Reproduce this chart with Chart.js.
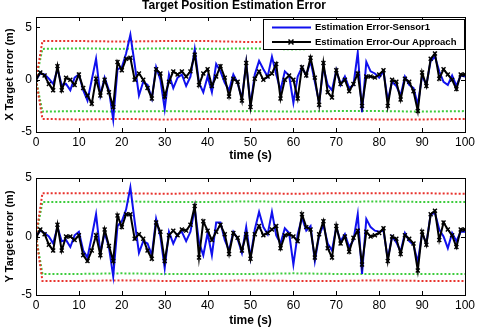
<!DOCTYPE html>
<html>
<head>
<meta charset="utf-8">
<title>Target Position Estimation Error</title>
<script src="https://cdn.jsdelivr.net/npm/chart.js@4.4.1/dist/chart.umd.min.js"></script>
<style>
  body { margin: 0; background: #fff; }
  canvas { display: block; }
</style>
</head>
<body>
<canvas id="xChart" width="478" height="164"></canvas>
<canvas id="yChart" width="478" height="164"></canvas>
<script>
// sample times (s), one estimate per second
const timeS = Array.from({ length: 101 }, (_, i) => i);
const yTicks = [-5, 0, 5];

const xErrSensor1 = [
  0, 0.6, 0.5, 0.1, -0.4, 1.0, -0.5, -0.4, -1.0, 0.2,
  0.5, -1.0, -2.0, 0.0, 2.0, -1.5, 0.2, -1.0, -3.8, 1.0,
  1.2, 2.5, 4.3, 1.5, -1.5, -0.2, -0.5, -1.8, 1.2, 0.0,
  -2.8, 0.5, -0.8, 0.2, 0.5, -0.6, 0.3, 2.9, -0.3, -1.2,
  0.3, -1.2, 1.5, 0.8, -0.3, -1.0, 0.5, -0.3, -1.8, 1.6,
  -2.4, 0.5, 1.8, 1.0, 0.3, 2.2, 0.5, -1.0, 0.8, 0.4,
  -2.2, 0.3, 1.2, 0.4, 1.8, -0.2, -2.2, 1.2, -0.5, -1.0,
  0.9, -0.5, 0.3, -0.8, -0.5, 2.6, -3.1, 1.7, 0.8, 0.6,
  0.2, 0.8, -2.0, -0.2, -0.6, -1.5, 0.3, -0.5, -0.8, -2.4,
  0.4, -0.5, 1.8, 2.2, 0.8, -0.2, -0.5, 0.4, -0.6, 0.4,
  0.3
];
const xErrOurs = [
  0, 0.7, 0.4, -0.4, -1.0, 1.3, -1.0, 0.2, 0.0, -0.5,
  0.5, -0.8, -1.5, -2.3, 0.1, -1.5, 0.0, -1.2, -2.6, 1.7,
  0.9, 2.0, 2.1, 0.0, 0.6, 0.0, -0.8, -1.8, 1.0, 0.6,
  -1.6, -0.2, 0.8, 0.5, 0.8, 0.3, 0.8, 2.4, -0.5, 0.6,
  1.0, -0.6, 0.3, 1.3, 0.2, -1.6, 0.1, -0.2, -2.0, 1.6,
  -2.6, 0.1, 0.8, 0.0, 0.3, 0.6, 1.5, -1.8, 0.0, 0.4,
  0.0, -1.8, 1.2, 0.4, 2.1, 0.2, -2.4, 1.6, -1.2, -1.7,
  0.9, -0.4, 0.0, -1.1, -0.4, 0.6, -2.5, 0.3, 0.3, 0.2,
  0.5, 0.9, -2.5, 0.0, -0.2, -1.9, 0.1, -0.2, -1.1, -3.0,
  0.7, -0.6, 2.0, 2.5, 0.1, 1.0, 0.5, 0.0, -0.9, 0.5,
  0.5
];
const yErrSensor1 = [
  0, 0.5, 0.3, 0.0, -0.6, 0.8, -0.4, -0.3, -0.9, 0.1,
  0.4, -1.2, -1.8, 0.0, 1.9, -1.4, 0.3, -0.9, -3.4, 0.9,
  1.3, 2.3, 4.2, 1.3, -1.4, -0.4, -0.6, -1.6, 1.5, 0.0,
  -2.7, 0.4, -0.6, 0.2, 0.4, -0.4, 0.4, 2.4, -0.5, -1.6,
  0.3, -1.6, 1.2, 1.2, -0.3, -1.2, 0.4, -0.2, -1.4, 0.8,
  -1.8, 0.6, 2.1, 0.8, 0.2, 2.1, 0.1, -0.6, 0.7, 0.3,
  -2.4, 0.2, 1.6, 0.5, 0.9, -2.1, 0.1, 1.0, -0.6, -1.2,
  0.8, -0.4, 0.2, -0.9, -0.3, 1.9, -3.2, 1.5, 0.8, 0.5,
  0.4, 0.5, -1.9, 0.0, -0.5, -1.3, 0.3, -0.4, -0.7, -2.2,
  0.3, -0.6, 1.9, 2.0, 0.6, 0.0, -1.0, 0.3, -0.4, 0.4,
  0.4
];
const yErrOurs = [
  -0.1, 0.6, 0.2, -0.7, -1.2, 1.0, -1.2, 0.0, 0.0, -0.3,
  0.1, -1.6, -2.1, -1.2, 0.1, -1.6, 0.6, -0.8, -2.1, 1.8,
  0.8, 1.9, 1.9, -0.2, 0.2, -0.2, -1.2, -1.9, 1.2, 0.4,
  -2.1, 0.1, 0.5, 0.1, 0.6, 0.5, 1.0, 2.6, -1.8, 1.3,
  0.5, -0.3, 0.4, 1.0, 0.2, -1.5, 0.3, -0.1, -1.2, 0.2,
  -1.9, 0.2, 0.9, 0.1, 0.3, 0.6, 0.9, -1.0, 0.1, 0.2,
  0.0, -0.4, 1.9, 0.8, 0.6, -1.8, 0.2, 1.3, -1.0, -1.8,
  0.9, -0.6, 0.0, -1.3, -0.1, 0.5, -2.4, 0.4, 0.0, 0.1,
  0.3, 0.7, -2.1, 0.0, -0.2, -1.5, 0.1, -0.2, -0.6, -2.9,
  0.4, -0.7, 1.9, 2.2, -0.3, 1.2, 0.6, 0.1, -0.9, 0.6,
  0.6
];

// error bounds (dotted)
const boundT = [0, 1.5, 10, 20, 30, 40, 50, 60, 70, 80, 90, 100];
const xRedHi = [0, 3.7, 3.7, 3.65, 3.7, 3.7, 3.6, 3.7, 3.7, 3.7, 3.65, 3.7];
const xRedLo = [0, -3.75, -3.8, -3.75, -3.8, -3.75, -3.8, -3.75, -3.75, -3.8, -3.8, -3.75];
const xGreenHi = [0, 2.95, 3.0, 2.95, 3.0, 2.95, 3.0, 2.9, 3.0, 2.95, 3.0, 3.0];
const xGreenLo = [0, -3.05, -3.0, -3.05, -3.0, -3.05, -3.0, -3.05, -3.0, -3.0, -3.05, -3.0];
const yRedHi = [0, 3.7, 3.7, 3.7, 3.65, 3.7, 3.7, 3.65, 3.7, 3.7, 3.7, 3.65];
const yRedLo = [0, -3.8, -3.8, -3.75, -3.8, -3.8, -3.75, -3.8, -3.8, -3.75, -3.8, -3.8];
const yGreenHi = [0, 2.95, 2.95, 3.0, 2.95, 2.95, 3.0, 2.95, 2.95, 3.0, 2.95, 2.95];
const yGreenLo = [0, -3.2, -3.2, -3.15, -3.2, -3.2, -3.2, -3.15, -3.2, -3.2, -3.2, -3.2];

const FONT = '"Liberation Sans", Arial, sans-serif';
const RED = '#e8322c';
const GREEN = '#3ccc3c';

const pts = (xs, ys) => xs.map((x, i) => ({ x, y: ys[i] }));

const boundSet = (ts, vals, color) => ({
  data: pts(ts, vals),
  borderColor: color,
  borderWidth: 2,
  borderDash: [2, 2],
  pointRadius: 0,
  order: 3
});

// MATLAB-like box with inward ticks
const matlabFrame = {
  id: 'matlabFrame',
  afterDraw(chart) {
    const { ctx, chartArea: a, scales } = chart;
    ctx.save();
    ctx.strokeStyle = '#000';
    ctx.lineWidth = 1;
    ctx.strokeRect(a.left + 0.5, a.top + 0.5, a.right - a.left, a.bottom - a.top);
    ctx.beginPath();
    scales.x.ticks.forEach(t => {
      const px = Math.round(scales.x.getPixelForValue(t.value)) + 0.5;
      ctx.moveTo(px, a.bottom); ctx.lineTo(px, a.bottom - 4);
      ctx.moveTo(px, a.top); ctx.lineTo(px, a.top + 4);
    });
    scales.y.ticks.forEach(t => {
      const py = Math.round(scales.y.getPixelForValue(t.value)) + 0.5;
      ctx.moveTo(a.left, py); ctx.lineTo(a.left + 4, py);
      ctx.moveTo(a.right, py); ctx.lineTo(a.right - 4, py);
    });
    ctx.stroke();
    ctx.restore();
  }
};

// legend box inside the plot, upper right
const boxLegend = {
  id: 'boxLegend',
  afterDraw(chart, args, opts) {
    if (!opts.show) return;
    const { ctx, chartArea: a } = chart;
    const items = chart.data.datasets.filter(d => d.label);
    const w = 201, h = 30;
    const x0 = a.right - w - 1, y0 = a.top + 2;
    ctx.save();
    ctx.fillStyle = '#fff';
    ctx.fillRect(x0, y0, w, h);
    ctx.strokeStyle = '#000';
    ctx.lineWidth = 1;
    ctx.strokeRect(x0 + 0.5, y0 + 0.5, w, h);
    ctx.font = 'bold 9.5px ' + FONT;
    ctx.textBaseline = 'middle';
    items.forEach((d, i) => {
      const cy = y0 + 8.5 + i * 14.5;
      ctx.strokeStyle = d.borderColor;
      ctx.lineWidth = d.borderWidth;
      ctx.beginPath();
      ctx.moveTo(x0 + 9, cy);
      ctx.lineTo(x0 + 48, cy);
      ctx.stroke();
      if (d.pointRadius) {
        const mx = x0 + 28, r = 2.5;
        ctx.lineWidth = 1.5;
        ctx.beginPath();
        ctx.moveTo(mx - r, cy - r); ctx.lineTo(mx + r, cy + r);
        ctx.moveTo(mx - r, cy + r); ctx.lineTo(mx + r, cy - r);
        ctx.stroke();
      }
      ctx.fillStyle = '#000';
      ctx.fillText(d.label, x0 + 52, cy);
    });
    ctx.restore();
  }
};

function makeChart(id, opts) {
  return new Chart(document.getElementById(id), {
    type: 'line',
    data: {
      datasets: [
        {
          label: 'Estimation Error-Sensor1',
          data: pts(timeS, opts.sensor),
          borderColor: '#1010ee',
          borderWidth: 2,
          pointRadius: 0,
          order: 2
        },
        {
          label: 'Estimation Error-Our Approach',
          data: pts(timeS, opts.ours),
          borderColor: '#000',
          borderWidth: 2,
          pointStyle: 'crossRot',
          pointRadius: 2.8,
          pointBorderWidth: 1.4,
          order: 1
        },
        boundSet(boundT, opts.redHi, RED),
        boundSet(boundT, opts.redLo, RED),
        boundSet(boundT, opts.greenHi, GREEN),
        boundSet(boundT, opts.greenLo, GREEN)
      ]
    },
    options: {
      responsive: false,
      animation: false,
      devicePixelRatio: 1,
      layout: { padding: { top: opts.padTop, right: 10, left: 0, bottom: 0 } },
      plugins: {
        legend: { display: false },
        tooltip: { enabled: false },
        title: {
          display: !!opts.title,
          text: opts.title,
          color: '#000',
          font: { family: FONT, size: 12, weight: 'bold', lineHeight: 1 },
          padding: { top: 0, bottom: 5 }
        },
        boxLegend: { show: opts.legend }
      },
      scales: {
        x: {
          type: 'linear',
          min: 0,
          max: 100,
          afterFit: s => { s.height = opts.xHeight; },
          grid: { display: false, drawTicks: false },
          border: { display: false },
          ticks: { stepSize: 10, color: '#000', padding: 3, font: { family: FONT, size: 12 } },
          title: {
            display: true,
            text: 'time (s)',
            color: '#000',
            font: { family: FONT, size: 12, weight: 'bold' },
            padding: { top: 0, bottom: opts.xTitlePad }
          }
        },
        y: {
          min: -5,
          max: opts.yMax,
          afterFit: s => { s.width = 36; },
          afterBuildTicks: s => { s.ticks = yTicks.map(v => ({ value: v })); },
          grid: { display: false, drawTicks: false },
          border: { display: false },
          ticks: { color: '#000', padding: 4, font: { family: FONT, size: 12 } },
          title: {
            display: true,
            text: opts.yTitle,
            color: '#000',
            font: { family: FONT, size: 11, weight: 'bold' },
            padding: { top: 3.5, bottom: 0 }
          }
        }
      }
    },
    plugins: [matlabFrame, boxLegend]
  });
}

makeChart('xChart', {
  title: 'Target Position Estimation Error',
  sensor: xErrSensor1, ours: xErrOurs,
  redHi: xRedHi, redLo: xRedLo, greenHi: xGreenHi, greenLo: xGreenLo,
  yTitle: 'X Target error (m)', yMax: 6, legend: true,
  padTop: 0, xHeight: 32, xTitlePad: 1
});

makeChart('yChart', {
  title: '',
  sensor: yErrSensor1, ours: yErrOurs,
  redHi: yRedHi, redLo: yRedLo, greenHi: yGreenHi, greenLo: yGreenLo,
  yTitle: 'Y Target error (m)', yMax: 5, legend: false,
  padTop: 14, xHeight: 33, xTitlePad: 0
});
</script>
</body>
</html>
